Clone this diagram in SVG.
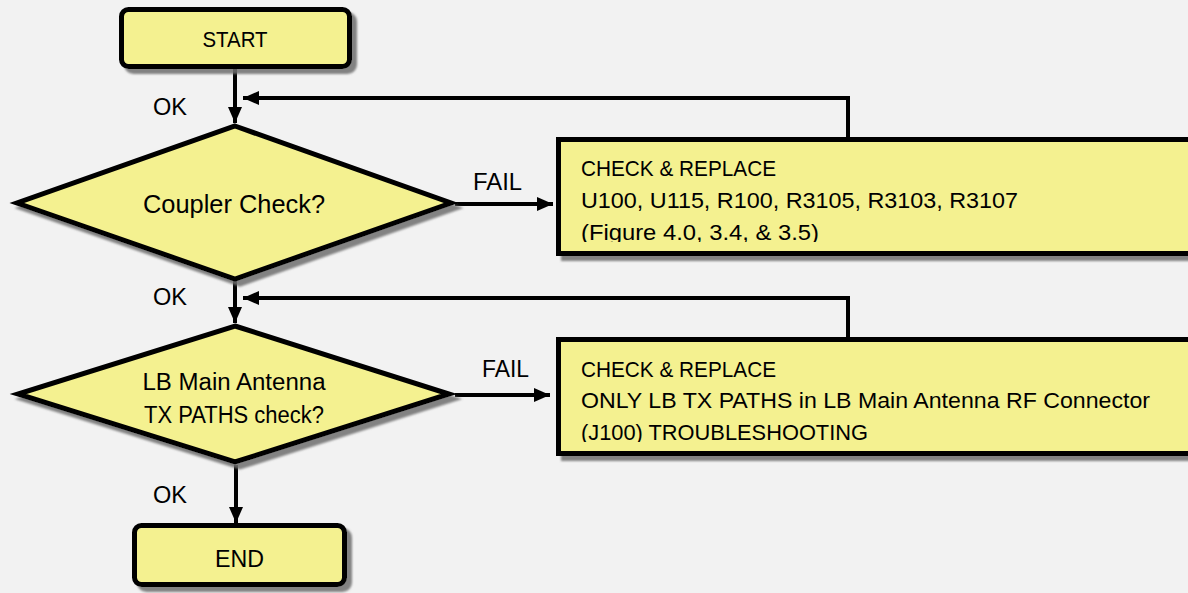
<svg xmlns="http://www.w3.org/2000/svg" width="1188" height="593" viewBox="0 0 1188 593">
<defs>
<style>
.bg{fill:#f2f2f2}
.node{fill:#f4f190;stroke:#000;stroke-width:5;stroke-linejoin:miter}
.shadow{filter:url(#sh)}
.conn{fill:none;stroke:#000;stroke-width:4}
text{font-family:"Liberation Sans",Arial,sans-serif;fill:#000}
.lbl{font-size:24px}
.box{font-size:22.5px}
</style>
<filter id="sh" x="-10%" y="-10%" width="130%" height="140%">
<feDropShadow dx="5" dy="5" stdDeviation="1.2" flood-color="#6e6e6e" flood-opacity="0.85"/>
</filter>
<marker id="ah" markerUnits="userSpaceOnUse" markerWidth="16" markerHeight="14" refX="16" refY="7" orient="auto">
<path d="M0,0 L16,7 L0,14 z" fill="#000"/>
</marker>
<clipPath id="c1"><rect x="560" y="140" width="700" height="102"/></clipPath>
<clipPath id="c2"><rect x="560" y="340" width="700" height="102"/></clipPath>
</defs>
<rect class="bg" x="0" y="0" width="1188" height="593"/>

<g id="connectors">
<line class="conn" x1="235" y1="69" x2="235" y2="123" marker-end="url(#ah)"/>
<line class="conn" x1="235" y1="281" x2="235" y2="323" marker-end="url(#ah)"/>
<line class="conn" x1="236" y1="465" x2="236" y2="523" marker-end="url(#ah)"/>
<line class="conn" x1="455" y1="204" x2="553" y2="204" marker-end="url(#ah)"/>
<line class="conn" x1="455" y1="395" x2="550" y2="395" marker-end="url(#ah)"/>
<polyline class="conn" points="848,139 848,98 243,98" marker-end="url(#ah)"/>
<polyline class="conn" points="848,339 848,298 243,298" marker-end="url(#ah)"/>
<text class="lbl" x="153" y="115" textLength="34" lengthAdjust="spacingAndGlyphs">OK</text>
<text class="lbl" x="153" y="305" textLength="34" lengthAdjust="spacingAndGlyphs">OK</text>
<text class="lbl" x="153" y="503" textLength="34" lengthAdjust="spacingAndGlyphs">OK</text>
<text class="lbl" x="473" y="190" textLength="49" lengthAdjust="spacingAndGlyphs">FAIL</text>
<text class="lbl" x="482" y="377" textLength="47" lengthAdjust="spacingAndGlyphs">FAIL</text>
</g>

<g id="start">
<rect class="node shadow" x="121.5" y="9.5" width="228" height="57" rx="7"/>
<text x="235" y="47" font-size="21.5" text-anchor="middle" textLength="65" lengthAdjust="spacingAndGlyphs">START</text>
</g>

<g id="coupler-check">
<polygon class="node shadow" points="235,126 451,203 235,279 17,203"/>
<text x="234" y="213" font-size="26" text-anchor="middle" textLength="182" lengthAdjust="spacingAndGlyphs">Coupler Check?</text>
</g>

<g id="replace-1">
<rect class="node shadow" x="558.5" y="139.5" width="700" height="114"/>
<g clip-path="url(#c1)">
<text class="box" x="581" y="176" textLength="195" lengthAdjust="spacingAndGlyphs">CHECK &amp; REPLACE</text>
<text class="box" x="581" y="208" textLength="437" lengthAdjust="spacingAndGlyphs">U100, U115, R100, R3105, R3103, R3107</text>
<text class="box" x="581" y="240" textLength="238" lengthAdjust="spacingAndGlyphs">(Figure 4.0, 3.4, &amp; 3.5)</text>
</g>
</g>

<g id="lb-tx-check">
<polygon class="node shadow" points="235,326 449,394 235,462 18,394"/>
<text x="234" y="390" font-size="23" text-anchor="middle" textLength="183" lengthAdjust="spacingAndGlyphs">LB Main Antenna</text>
<text x="234" y="423" font-size="23" text-anchor="middle" textLength="180" lengthAdjust="spacingAndGlyphs">TX PATHS check?</text>
</g>

<g id="replace-2">
<rect class="node shadow" x="558.5" y="339.5" width="700" height="114"/>
<g clip-path="url(#c2)">
<text class="box" x="581" y="377" textLength="195" lengthAdjust="spacingAndGlyphs">CHECK &amp; REPLACE</text>
<text class="box" x="581" y="408" textLength="569" lengthAdjust="spacingAndGlyphs">ONLY LB TX PATHS in LB Main Antenna RF Connector</text>
<text class="box" x="581" y="440" textLength="287" lengthAdjust="spacingAndGlyphs">(J100) TROUBLESHOOTING</text>
</g>
</g>

<g id="end">
<rect class="node shadow" x="134.5" y="525.5" width="210" height="59" rx="7"/>
<text x="239.5" y="567" font-size="23.5" text-anchor="middle" textLength="49" lengthAdjust="spacingAndGlyphs">END</text>
</g>
</svg>
